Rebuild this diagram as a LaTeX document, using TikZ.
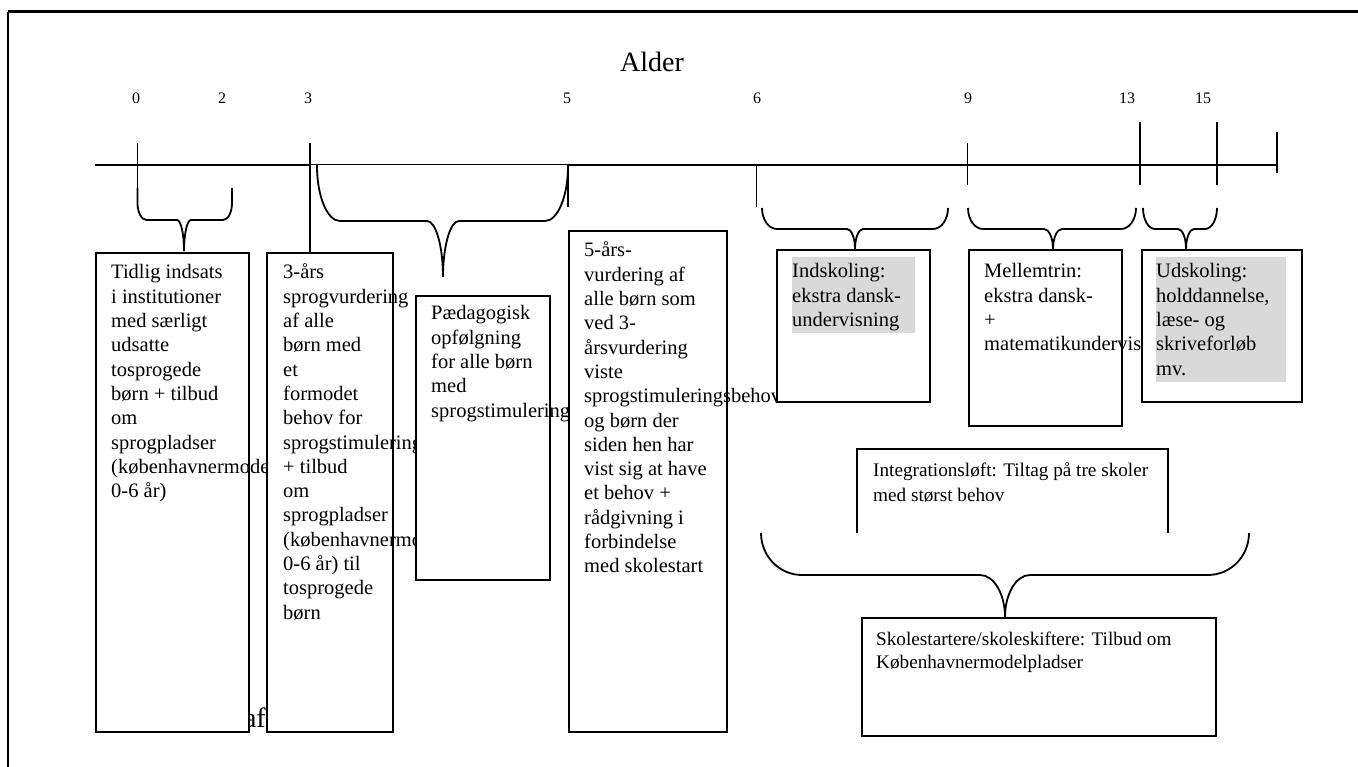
\documentclass[tikz,border=0pt]{standalone}
\usepackage{fontspec}
\setmainfont{Liberation Serif}
\newcommand\ml[1]{\begin{tabular}[t]{@{}l@{}}#1\end{tabular}}
% xl, xr, ytop, ybottom, xtip, ytip, corner w, corner h, tip w
\newcommand\drawbrace[9]{%
 \draw[brc] (#1,#3) -- (#1,{#4-#8})
   .. controls (#1,{#4-0.448*#8}) and ({#1+0.448*#7},#4) .. ({#1+#7},#4)
   -- ({#5-#9},#4)
   .. controls ({#5-0.448*#9},#4) and (#5,{#6-0.552*(#6-#4)}) .. (#5,#6)
   .. controls (#5,{#6-0.552*(#6-#4)}) and ({#5+0.448*#9},#4) .. ({#5+#9},#4)
   -- ({#2-#7},#4)
   .. controls ({#2-0.448*#7},#4) and (#2,{#4-0.448*#8}) .. (#2,{#4-#8})
   -- (#2,#3);}
\begin{document}
\begin{tikzpicture}[x=1pt,y=-1pt,
  ln/.style={line width=1.8pt},
  brc/.style={line width=1.8pt},
  box/.style={draw, line width=1.8pt, fill=white, inner sep=0pt, anchor=north west},
  txt/.style={font=\fontsize{20.5}{24.3}\selectfont, inner sep=0pt, anchor=base west},
  num/.style={font=\fontsize{16}{19}\selectfont, inner sep=0pt, anchor=base},
  shade/.style={fill=black!15, draw=none}]
\useasboundingbox (0,0) rectangle (1358,767);
% frame
\draw[line width=3pt] (8,12) -- (1358,12);
\draw[line width=2pt] (8,12) -- (8,767);
% title
\node[font=\fontsize{28}{32}\selectfont, inner sep=0pt, anchor=base west] (alder) at (620,72) {Alder};
% numbers
\node[num] (n0) at (136,104) {0};
\node[num] (n2) at (222,104) {2};
\node[num] (n3) at (308,104) {3};
\node[num] (n5) at (567,104) {5};
\node[num] (n6) at (757,104) {6};
\node[num] (n9) at (968,104) {9};
\node[num] (n13) at (1127,104) {13};
\node[num] (n15) at (1203,104) {15};
% axis
\draw[ln] (95,165) -- (310,165);
\draw[line width=1pt] (310,165) -- (568,165);
\draw[ln] (568,165) -- (1277,165);
% ticks
\draw[ln] (137.5,143) -- (137.5,190);
\draw[ln] (310,143) -- (310,252);
\draw[ln] (568,165) -- (568,207);
\draw[ln] (756.5,165) -- (756.5,207);
\draw[ln] (967.5,143) -- (967.5,185);
\draw[ln] (1140,122) -- (1140,185);
\draw[ln] (1217,122) -- (1217,185);
\draw[ln] (1277,132) -- (1277,173);
% braces
\drawbrace{137.5}{232}{188}{220}{184}{251}{9}{17}{7}
\drawbrace{317}{568}{165}{221}{443}{277}{23}{55}{16}
\drawbrace{762}{948}{208}{229}{855}{249}{15}{21}{8}
\drawbrace{968}{1136}{208}{229}{1053}{249}{15}{21}{9}
\drawbrace{1143}{1217}{208}{229}{1186}{249}{12}{21}{8}
% hidden text behind first box
\node[font=\fontsize{28}{32}\selectfont, inner sep=0pt, anchor=base east] (af) at (266,727) {af};
% box 1
\node[box, minimum width=153pt, minimum height=479pt] (b1) at (95,252) {};
\node[txt] (t1) at (111,279) {\ml{Tidlig indsats\\i institutioner\\med særligt\\udsatte\\tosprogede\\børn + tilbud\\om\\sprogpladser\\(københavnermodel\\0-6 år)}};
% box 2
\node[box, minimum width=126pt, minimum height=479pt] (b2) at (266,252) {};
\node[txt] (t2) at (283,279) {\ml{3-års\\sprogvurdering\\af alle\\børn med\\et\\formodet\\behov for\\sprogstimulering\\+ tilbud\\om\\sprogpladser\\(københavnermodel\\0-6 år) til\\tosprogede\\børn}};
% box 3
\node[box, minimum width=134pt, minimum height=284pt] (b3) at (415,295) {};
\node[txt] (t3) at (431,320) {\ml{Pædagogisk\\opfølgning\\for alle børn\\med\\sprogstimulering}};
% box 4
\node[box, minimum width=158pt, minimum height=501pt] (b4) at (568,230) {};
\node[txt] (t4) at (584,257) {\ml{5-års-\\vurdering af\\alle børn som\\ved 3-\\årsvurdering\\viste\\sprogstimuleringsbehov\\og børn der\\siden hen har\\vist sig at have\\et behov +\\rådgivning i\\forbindelse\\med skolestart}};
% box 5
\node[box, minimum width=153pt, minimum height=152pt] (b5) at (776,249) {};
\fill[shade] (792,257) rectangle (915,333);
\node[txt] (t5) at (792,278) {\ml{Indskoling:\\ekstra dansk-\\undervisning}};
% box 6
\node[box, minimum width=153pt, minimum height=176pt] (b6) at (968,249) {};
\node[txt] (t6) at (984,278) {\ml{Mellemtrin:\\ekstra dansk-\\+\\matematikundervisning}};
% box 7
\node[box, minimum width=160pt, minimum height=152pt] (b7) at (1141,249) {};
\fill[shade] (1156,257) rectangle (1286,382);
\node[txt] (t7) at (1156,278) {\ml{Udskoling:\\holddannelse,\\læse- og\\skriveforløb\\mv.}};
% box 8 (open at bottom)
\coordinate (b8bl) at (857,533);
\coordinate (b8tl) at (857,449);
\coordinate (b8tr) at (1168,449);
\coordinate (b8br) at (1168,533);
\draw[ln] (b8bl) -- (b8tl) -- (b8tr) -- (b8br);
\node[txt, font=\fontsize{19.2}{25}\selectfont] (t8) at (873,476) {\ml{Integrationsløft: Tiltag på tre skoler\\med størst behov}};
% big brace
\drawbrace{761}{1249}{533}{575}{1005}{617}{41}{42}{25}
% box 9
\node[box, minimum width=354pt, minimum height=118pt] (b9) at (861,617) {};
\node[txt, font=\fontsize{19.2}{23.5}\selectfont] (t9) at (876,645) {\ml{Skolestartere/skoleskiftere: Tilbud om\\Københavnermodelpladser}};
\end{tikzpicture}
\end{document}
